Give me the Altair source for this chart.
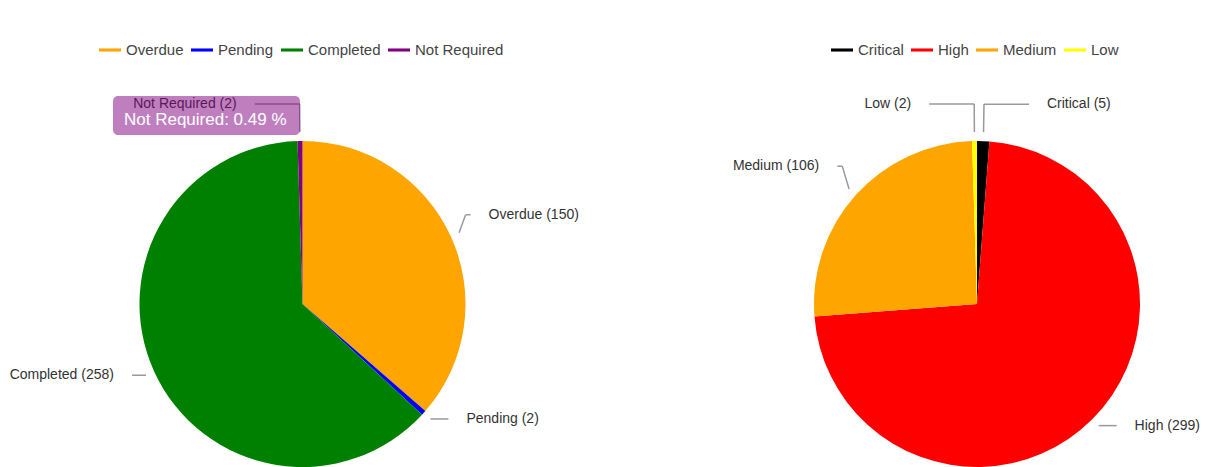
import altair as alt
import pandas as pd

# ---- data ----
status_cats = ["Overdue", "Pending", "Completed", "Not Required"]
status_vals = [150, 2, 258, 2]
status_colors = ["#FFA500", "#0000FF", "#008000", "#800080"]

prio_cats = ["Critical", "High", "Medium", "Low"]
prio_vals = [5, 299, 106, 2]
prio_colors = ["#000000", "#FF0000", "#FFA500", "#FFFF00"]

tooltip_cat = "Not Required"

# ---- layout ----
W, H = 1195, 459
R = 163
FONT = "Liberation Sans, Arial, sans-serif"
LEGEND_PATH = "M-1,-0.14L1,-0.14L1,0.14L-1,0.14Z"


def frame(cats, vals):
    return pd.DataFrame({"cat": cats, "value": vals, "idx": list(range(len(cats)))})


def geometry(base, cx, cy):
    return base.transform_joinaggregate(total="sum(value)").transform_window(
        cum="sum(value)", sort=[alt.SortField("idx")], frame=[None, 0]
    ).transform_calculate(
        a="(datum.cum - datum.value / 2) / datum.total * 2 * PI",
        s="sin(datum.a)",
        c="cos(datum.a)",
        side="datum.s >= 0 ? 1 : -1",
        x0=f"{cx} + 172 * datum.s",
        y0=f"{cy} - 172 * datum.c",
        dy="28 * sqrt(max(datum.c, 0))",
        x1="datum.x0 + datum.dy * datum.s * 0.4",
        y1="datum.y0 - datum.dy",
        h="datum.c > 0.9 ? 45 : (datum.c < -0.5 ? 18 : (datum.c < 0 ? 14 : 5))",
        xe="datum.x1 + datum.side * datum.h",
        xt="datum.xe + datum.side * 18",
        label="datum.cat + ' (' + datum.value + ')'",
        pct="format(datum.value / datum.total * 100, '.2f')",
    )


def pie(cats, vals, colors, cx, cy, lx, ly):
    df = frame(cats, vals)
    base = alt.Chart(df)
    arcs = base.mark_arc(radius=R).encode(
        theta=alt.Theta("value:Q", stack=True),
        color=alt.Color(
            "cat:N",
            sort=cats,
            scale=alt.Scale(domain=cats, range=colors),
            legend=alt.Legend(
                title=None,
                orient="none",
                direction="horizontal",
                legendX=lx,
                legendY=ly,
                symbolType=LEGEND_PATH,
                symbolSize=484,
                symbolStrokeWidth=0,
                symbolOpacity=1,
                labelFontSize=15,
                labelFont=FONT,
                labelColor="#444444",
                labelOffset=5,
                columnPadding=7,
                padding=0,
            ),
        ),
        order=alt.Order("idx:Q"),
        x=alt.value(cx),
        y=alt.value(cy),
    )
    geo = geometry(base, cx, cy)
    radial = geo.mark_rule(color="#9a9a9a", strokeWidth=1.5).encode(
        x=alt.X("x0:Q", scale=None, axis=None),
        y=alt.Y("y0:Q", scale=None, axis=None),
        x2="x1:Q",
        y2="y1:Q",
    )
    horiz = geo.mark_rule(color="#9a9a9a", strokeWidth=1.5).encode(
        x=alt.X("x1:Q", scale=None, axis=None),
        x2="xe:Q",
        y=alt.Y("y1:Q", scale=None, axis=None),
    )
    txt_r = geo.transform_filter("datum.side > 0").mark_text(
        align="left", baseline="middle", fontSize=14, font=FONT, color="#333333"
    ).encode(
        x=alt.X("xt:Q", scale=None, axis=None),
        y=alt.Y("y1:Q", scale=None, axis=None),
        text="label:N",
    )
    txt_l = geo.transform_filter("datum.side < 0").mark_text(
        align="right", baseline="middle", fontSize=14, font=FONT, color="#333333"
    ).encode(
        x=alt.X("xt:Q", scale=None, axis=None),
        y=alt.Y("y1:Q", scale=None, axis=None),
        text="label:N",
    )
    return base, geo, [arcs, radial, horiz, txt_r, txt_l]


lbase, lgeo, left_layers = pie(status_cats, status_vals, status_colors, 294.5, 296, 91, 31)
rbase, rgeo, right_layers = pie(prio_cats, prio_vals, prio_colors, 969, 296, 823, 31)

# tooltip box over the small "Not Required" slice
tip_box = lbase.transform_filter(f"datum.cat == '{tooltip_cat}'").mark_rect(
    cornerRadius=5, color="#800080", opacity=0.5
).encode(
    x=alt.value(105), x2=alt.value(292), y=alt.value(88), y2=alt.value(127)
)
tip_text = lgeo.transform_filter(f"datum.cat == '{tooltip_cat}'").transform_calculate(
    tip="datum.cat + ': ' + datum.pct + ' %'"
).mark_text(
    align="left", baseline="middle", fontSize=17, font=FONT, color="white"
).encode(
    x=alt.value(116), y=alt.value(112), text="tip:N"
)

chart = alt.layer(
    *left_layers, *right_layers, tip_box, tip_text
).resolve_scale(
    color="independent", theta="independent"
).properties(
    width=W, height=H, autosize=alt.AutoSizeParams(type="none"), padding=0
).configure_view(stroke=None)

chart.save("out.html", embed_options={"renderer": "svg", "actions": False})
